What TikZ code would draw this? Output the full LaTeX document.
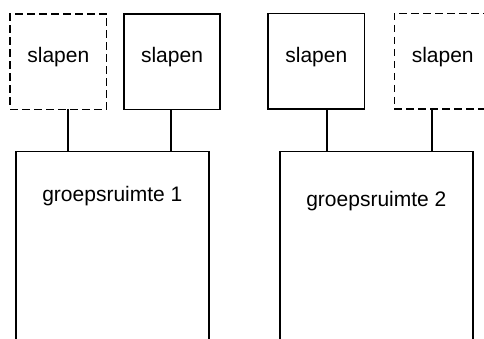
\documentclass[tikz,border=0pt]{standalone}
\usepackage{fontspec}
\setmainfont{Liberation Sans}
\begin{document}
\begin{tikzpicture}[x=1pt,y=1pt,
  line width=1.8pt,
  sleep/.style={draw, minimum width=96.5pt, minimum height=95.5pt, inner sep=0pt, outer sep=0pt},
  dsleep/.style={sleep, dash pattern=on 7.5pt off 4.5pt},
  group/.style={draw, minimum width=192.7pt, minimum height=208pt, inner sep=0pt, outer sep=0pt},
  lbl/.style={font=\fontsize{21pt}{25pt}\selectfont, anchor=base, inner sep=0pt},
  conn/.style={line width=1.8pt}]
\useasboundingbox (0,0) rectangle (484,338);
\clip (0,0) rectangle (484,338);
% sleeping rooms
\node[dsleep] (d1) at (58.3,276.3) {};
\node[sleep]  (s1) at (172,276.3) {};
\node[sleep]  (s2) at (316.3,276.8) {};
\node[dsleep] (d2) at (442.7,276.8) {};
\node[lbl] (t1) at ([yshift=-1.3pt]d1.center) {slapen};
\node[lbl] (t2) at ([yshift=-1.3pt]s1.center) {slapen};
\node[lbl] (t3) at ([yshift=-1.3pt]s2.center) {slapen};
\node[lbl] (t4) at ([yshift=-1.3pt]d2.center) {slapen};
% group rooms
\node[group, anchor=north] (g1) at (112.35,186.5) {};
\node[group, anchor=north] (g2) at (376.35,186.5) {};
\node[lbl] (gt1) at ([yshift=-50pt]g1.north) {groepsruimte 1};
\node[lbl] (gt2) at ([yshift=-55pt]g2.north) {groepsruimte 2};
% connectors
\draw[conn] ([xshift=9.4pt]d1.south) -- ([xshift=9.4pt]d1.south |- g1.north);
\draw[conn] ([xshift=-1pt]s1.south) -- ([xshift=-1pt]s1.south |- g1.north);
\draw[conn] ([xshift=10.4pt]s2.south) -- ([xshift=10.4pt]s2.south |- g2.north);
\draw[conn] ([xshift=-11pt]d2.south) -- ([xshift=-11pt]d2.south |- g2.north);
\end{tikzpicture}
\end{document}
